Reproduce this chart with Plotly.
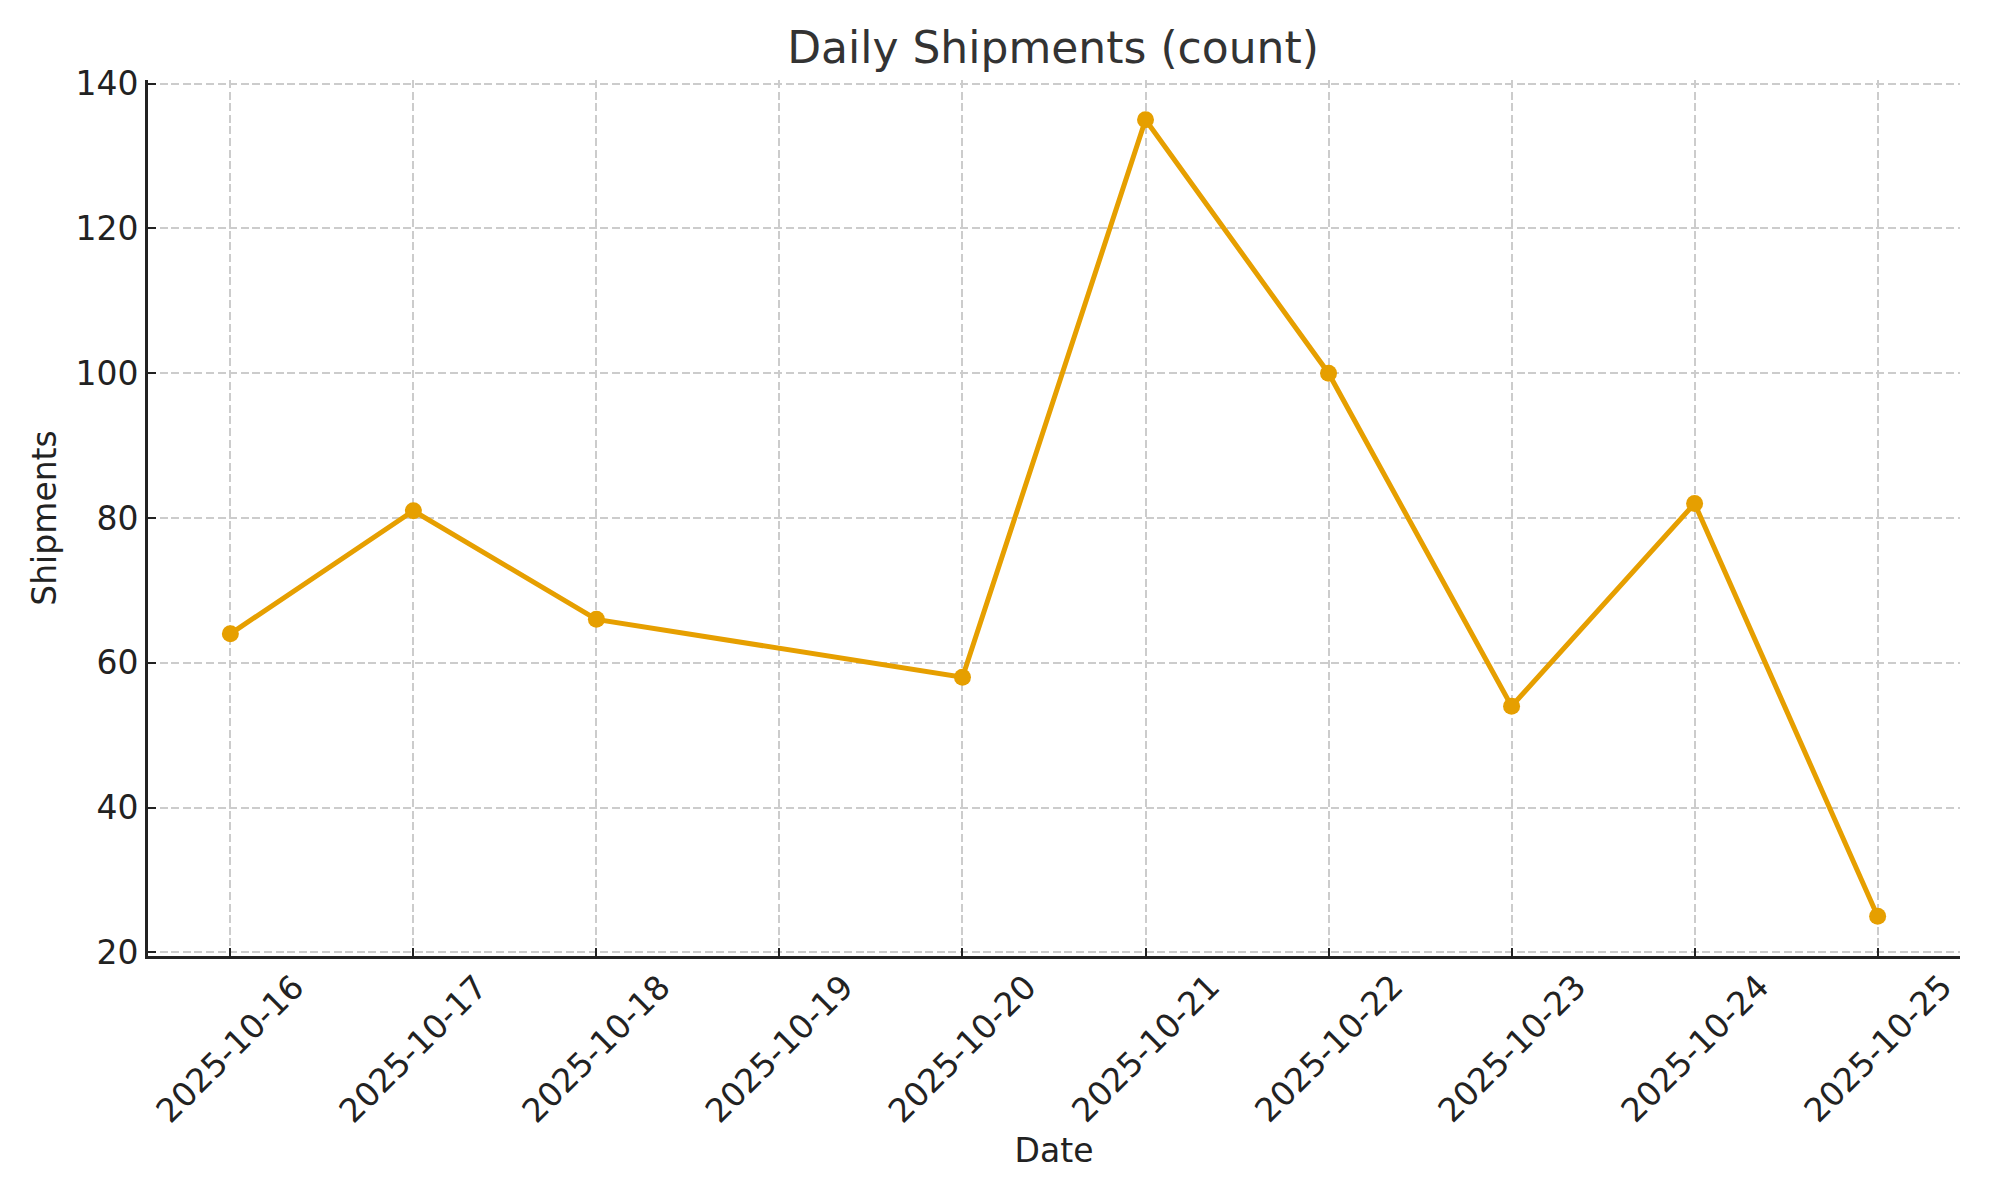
import plotly.graph_objects as go

# ---- data ----
dates = ["2025-10-16", "2025-10-17", "2025-10-18", "2025-10-20", "2025-10-21",
         "2025-10-22", "2025-10-23", "2025-10-24", "2025-10-25"]
shipments = [64, 81, 66, 58, 135, 100, 54, 82, 25]
tick_dates = ["2025-10-16", "2025-10-17", "2025-10-18", "2025-10-19", "2025-10-20",
              "2025-10-21", "2025-10-22", "2025-10-23", "2025-10-24", "2025-10-25"]
y_ticks = [20, 40, 60, 80, 100, 120, 140]

FONT = "DejaVu Sans"
ORANGE = "#E69F00"
AXIS = "#222222"

# page body has an 8px default margin; figure is sized to fit inside it
W, H = 1984, 1184
OFF = 8

fig = go.Figure()
fig.add_trace(go.Scatter(
    x=dates, y=shipments, mode="lines+markers",
    line=dict(color=ORANGE, width=5),
    marker=dict(color=ORANGE, size=17),
    showlegend=False,
))

# rotated x tick labels, centered on ticks (matplotlib style)
for d in tick_dates:
    fig.add_annotation(
        x=d, y=0, xref="x", yref="paper",
        text=d, showarrow=False, textangle=-45,
        xanchor="center", yanchor="top", yshift=-8,
        font=dict(family=FONT, size=33, color=AXIS),
    )

left, right, top, bottom = 148 - OFF, 1960 - OFF, 80.4 - OFF, 955.6 - OFF

fig.update_layout(
    width=W, height=H,
    margin=dict(l=left, r=W - right, t=top, b=H - bottom),
    paper_bgcolor="white", plot_bgcolor="white",
    font=dict(family=FONT, size=33, color=AXIS),
    title=dict(
        text="Daily Shipments (count)", x=(1053 - OFF) / W, xanchor="center",
        y=1 - (48 - OFF) / H, yanchor="middle",
        font=dict(family=FONT, size=44, color="#333333"),
    ),
    xaxis=dict(
        type="date",
        range=["2025-10-15 13:12", "2025-10-25 10:48"],
        tickvals=tick_dates, showticklabels=False,
        ticks="inside", ticklen=8, tickwidth=2, tickcolor=AXIS,
        showline=True, linecolor=AXIS, linewidth=3,
        showgrid=True, gridcolor="#cccccc", gridwidth=2, griddash="8px,3.6px",
        zeroline=False,
        title=dict(text="Date", standoff=181, font=dict(family=FONT, size=33, color=AXIS)),
    ),
    yaxis=dict(
        range=[19.5, 140.5],
        tickvals=y_ticks,
        ticks="inside", ticklen=8, tickwidth=2, tickcolor=AXIS,
        showline=True, linecolor=AXIS, linewidth=3,
        showgrid=True, gridcolor="#cccccc", gridwidth=2, griddash="8px,3.6px",
        zeroline=False,
        tickfont=dict(family=FONT, size=33, color=AXIS),
        ticklabelstandoff=0,
        title=dict(text="Shipments", standoff=9, font=dict(family=FONT, size=33, color=AXIS)),
    ),
)

fig.write_html("out.html")
